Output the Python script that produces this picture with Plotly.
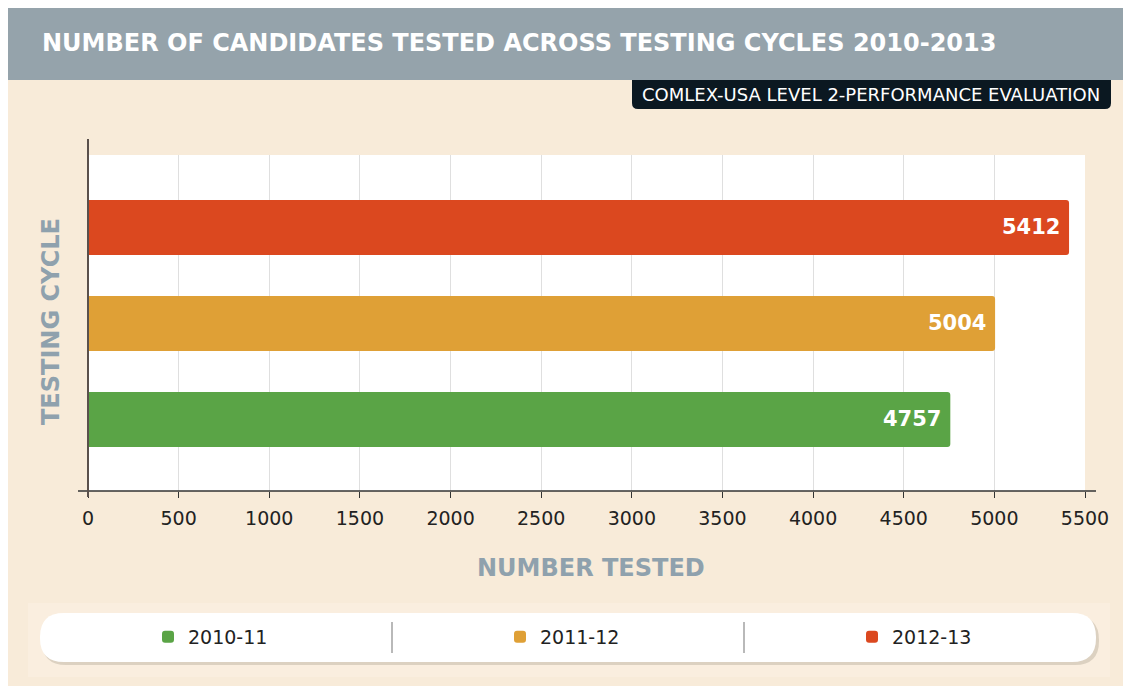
import plotly.graph_objects as go

# ---- data ----
cycles = ["2010-11", "2011-12", "2012-13"]
counts = [4757, 5004, 5412]
colors = ["#5AA446", "#DFA036", "#DB481F"]
x_ticks = list(range(0, 5501, 500))

title_text = "NUMBER OF CANDIDATES TESTED ACROSS TESTING CYCLES 2010-2013"
subtitle_text = "COMLEX-USA LEVEL 2-PERFORMANCE EVALUATION"
x_title = "NUMBER TESTED"
y_title = "TESTING CYCLE"

FONT = "DejaVu Sans"
OX, OY = 8, 8                 # page body margin
SCR_W, SCR_H = 1131, 686
FIG_W, FIG_H = SCR_W - OX, SCR_H - OY
PL, PT, PR, PB = 88, 155, 1085, 491  # plot area in screen pixels
PW, PH = PR - PL, PB - PT


def X(px):
    return (px - PL) / PW


def Y(py):
    return (PB - py) / PH


def rrect(x0, y0, x1, y1, r, tl=True, tr=True, br=True, bl=True):
    def p(a, b):
        return f"{X(a):.5f},{Y(b):.5f}"
    s = ["M" + p(x0 + (r if tl else 0), y0)]
    if tr:
        s.append("L" + p(x1 - r, y0)); s.append("Q" + p(x1, y0) + " " + p(x1, y0 + r))
    else:
        s.append("L" + p(x1, y0))
    if br:
        s.append("L" + p(x1, y1 - r)); s.append("Q" + p(x1, y1) + " " + p(x1 - r, y1))
    else:
        s.append("L" + p(x1, y1))
    if bl:
        s.append("L" + p(x0 + r, y1)); s.append("Q" + p(x0, y1) + " " + p(x0, y1 - r))
    else:
        s.append("L" + p(x0, y1))
    if tl:
        s.append("L" + p(x0, y0 + r)); s.append("Q" + p(x0, y0) + " " + p(x0 + r, y0))
    else:
        s.append("L" + p(x0, y0))
    s.append("Z")
    return " ".join(s)


def rect(x0, y0, x1, y1, color):
    return dict(type="rect", xref="paper", yref="paper", layer="below",
                x0=X(x0), x1=X(x1), y0=Y(y1), y1=Y(y0),
                fillcolor=color, line=dict(width=0))


legend_names = ["legend", "legend2", "legend3"]
legend_left = [148, 500, 852]

fig = go.Figure()
for c, v, col, lg in zip(cycles, counts, colors, legend_names):
    fig.add_trace(go.Bar(
        y=[c], x=[v], name=c, orientation="h", legend=lg,
        marker=dict(color=col, line=dict(width=0), cornerradius=3),
        width=0.573, hoverinfo="x+name",
    ))

shapes = [
    rect(8, 80, 1128, SCR_H + 5, "#F8EBD9"),
    rect(8, 6, SCR_W + 5, 80, "#95A3AB"),
    rect(PL, PT, PR, PB, "#FFFFFF"),
    rect(28, 603, 1110, 677, "#FAEEDF"),
    dict(type="path", xref="paper", yref="paper", layer="below",
         path=rrect(632, 80, 1111, 109, 6, tl=False, tr=False),
         fillcolor="#0B1821", line=dict(width=0)),
    dict(type="path", xref="paper", yref="paper", layer="below",
         path=rrect(42, 616, 1099, 665, 24), fillcolor="#DCD1C1", line=dict(width=0)),
    dict(type="path", xref="paper", yref="paper", layer="below",
         path=rrect(40, 613, 1096, 662, 24), fillcolor="#FFFFFF", line=dict(width=0)),
    dict(type="line", xref="paper", yref="paper", x0=X(392), x1=X(392), y0=Y(622), y1=Y(653),
         line=dict(color="#8A8A8A", width=1.2)),
    dict(type="line", xref="paper", yref="paper", x0=X(744), x1=X(744), y0=Y(622), y1=Y(653),
         line=dict(color="#8A8A8A", width=1.2)),
    dict(type="line", xref="paper", yref="paper", x0=X(78), x1=X(1096), y0=Y(491), y1=Y(491),
         line=dict(color="#333333", width=1.5)),
    dict(type="line", xref="paper", yref="paper", x0=X(88), x1=X(88), y0=Y(139), y1=Y(497),
         line=dict(color="#5A504C", width=2)),
]

annotations = [
    dict(xref="paper", yref="paper", x=X(40), y=Y(43), xanchor="left", yanchor="middle",
         text=f"<b>{title_text}</b>", showarrow=False,
         font=dict(family=FONT, size=24, color="#FFFFFF")),
    dict(xref="paper", yref="paper", x=X(871), y=Y(95), xanchor="center", yanchor="middle",
         text=subtitle_text, showarrow=False,
         font=dict(family=FONT, size=18, color="#FFFFFF")),
    dict(xref="paper", yref="paper", x=X(591), y=Y(568), xanchor="center", yanchor="middle",
         text=f"<b>{x_title}</b>", showarrow=False,
         font=dict(family=FONT, size=24, color="#8FA1AD")),
    dict(xref="paper", yref="paper", x=X(51), y=Y(322), xanchor="center", yanchor="middle",
         text=f"<b>{y_title}</b>", showarrow=False, textangle=-90,
         font=dict(family=FONT, size=24, color="#8FA1AD")),
]
for c, v in zip(cycles, counts):
    annotations.append(dict(x=v, y=c, xref="x", yref="y", xanchor="right", yanchor="middle",
                            xshift=-7, text=f"<b>{v}</b>", showarrow=False,
                            font=dict(family=FONT, size=21, color="#FFFFFF")))

legend_common = dict(orientation="h", yanchor="middle", xanchor="left",
                     bgcolor="rgba(0,0,0,0)", borderwidth=0,
                     font=dict(family=FONT, size=19, color="#222222"))
legends = {lg: dict(legend_common, x=X(lx), y=Y(637))
           for lg, lx in zip(legend_names, legend_left)}

fig.update_layout(
    width=FIG_W, height=FIG_H,
    margin=dict(l=PL - OX, r=SCR_W - PR, t=PT - OY, b=SCR_H - PB, pad=0),
    paper_bgcolor="#FFFFFF", plot_bgcolor="rgba(0,0,0,0)",
    barmode="overlay",
    font=dict(family=FONT, color="#222222"),
    shapes=shapes, annotations=annotations,
    showlegend=True,
    xaxis=dict(range=[0, 5500], tickvals=x_ticks, ticktext=[str(t) for t in x_ticks],
               showgrid=True, gridcolor="#DFDFDF", gridwidth=1,
               zeroline=False, showline=False,
               ticks="outside", ticklen=6, tickcolor="#333333", tickwidth=1.2,
               ticklabelstandoff=4,
               tickfont=dict(family=FONT, size=19, color="#222222"), fixedrange=True),
    yaxis=dict(range=[-0.745, 2.755], type="category", categoryorder="array",
               categoryarray=cycles, showgrid=False, zeroline=False, showline=False,
               showticklabels=False, ticks="", fixedrange=True),
    **legends,
)

fig.write_html("out.html")
